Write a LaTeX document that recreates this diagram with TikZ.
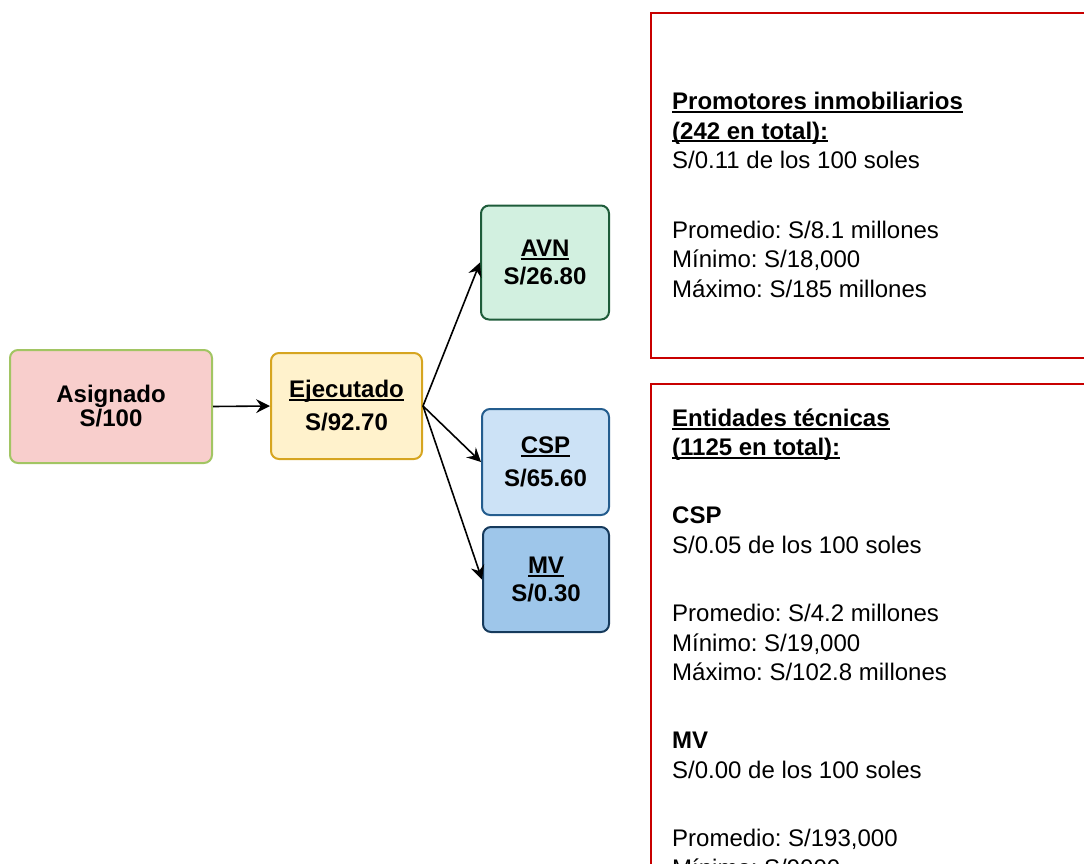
\documentclass[tikz,border=0pt]{standalone}
\usepackage{fontspec}
\setmainfont{Liberation Sans}
\usetikzlibrary{arrows.meta}
\frenchspacing
\definecolor{redfill}{HTML}{F8CECC}
\definecolor{greenline}{HTML}{A2C563}
\definecolor{yelfill}{HTML}{FFF2CC}
\definecolor{yelline}{HTML}{D6A520}
\definecolor{avnfill}{HTML}{D2F0E0}
\definecolor{avnline}{HTML}{1E5C3A}
\definecolor{cspfill}{HTML}{CCE2F6}
\definecolor{cspline}{HTML}{245D8E}
\definecolor{mvfill}{HTML}{9EC6EA}
\definecolor{mvline}{HTML}{163A5C}
\definecolor{boxred}{HTML}{C80000}
\newcommand{\myul}[1]{\setbox0\hbox{#1}\rlap{\rule[-3.2pt]{\wd0}{1.9pt}}\box0}
\tikzset{
  flowbox/.style={draw, line width=2pt, rounded corners=8pt, align=center,
    font=\bfseries\fontsize{24}{24}\selectfont, inner sep=0pt},
  conn/.style={line width=1.6pt, black,
    arrows={-Stealth[length=14pt,width=14pt,inset=5pt,line width=0pt]}},
  infobox/.style={draw=boxred, line width=2pt},
  infotext/.style={anchor=north west, align=left, inner sep=0pt,
    font=\fontsize{24}{29.5}\selectfont}
}
\begin{document}
\begin{tikzpicture}[x=1pt,y=-1pt]
\useasboundingbox (0,0) rectangle (1084,864);
\clip (0,0) rectangle (1084,864);
% main flow boxes
\node[flowbox, fill=redfill, draw=greenline, minimum width=202pt, minimum height=113pt]
  (asig) at (111,406.5) {Asignado\\S/100};
\node[flowbox, fill=yelfill, draw=yelline, minimum width=151pt, minimum height=106pt]
  (ejec) at (346.5,406) {\myul{Ejecutado}\\[9pt]S/92.70};
\node[flowbox, fill=avnfill, draw=avnline, minimum width=128pt, minimum height=114pt]
  (avn) at (545,262.5) {\myul{AVN}\\[4pt]S/26.80};
\node[flowbox, fill=cspfill, draw=cspline, minimum width=127pt, minimum height=106pt]
  (csp) at (545.5,462) {\myul{CSP}\\[9pt]S/65.60};
\node[flowbox, fill=mvfill, draw=mvline, minimum width=126pt, minimum height=105pt]
  (mv) at (546,579.5) {\myul{MV}\\[4pt]S/0.30};
% connectors
\draw[conn] (asig.east) -- (ejec.west);
\draw[conn] (ejec.east) -- (avn.west);
\draw[conn] (ejec.east) -- (csp.west);
\draw[conn] (ejec.east) -- (mv.west);
% info boxes
\draw[infobox] (651,13) rectangle (1100,358);
\draw[infobox] (651,384) rectangle (1100,900);
\node[infotext] (prom) at (672,92) {%
  \textbf{\myul{Promotores inmobiliarios}}\\
  \textbf{\myul{(242 en total):}}\\
  S/0.11 de los 100 soles\\[40pt]
  Promedio: S/8.1 millones\\
  Mínimo: S/18,000\\
  Máximo: S/185 millones};
\node[infotext] (ent) at (672,408.5) {%
  \textbf{\myul{Entidades técnicas}}\\
  \textbf{\myul{(1125 en total):}}\\[38.5pt]
  \textbf{CSP}\\
  S/0.05 de los 100 soles\\[39pt]
  Promedio: S/4.2 millones\\
  Mínimo: S/19,000\\
  Máximo: S/102.8 millones\\[38.5pt]
  \textbf{MV}\\
  S/0.00 de los 100 soles\\[39pt]
  Promedio: S/193,000\\
  Mínimo: S/9000};
\end{tikzpicture}
\end{document}
